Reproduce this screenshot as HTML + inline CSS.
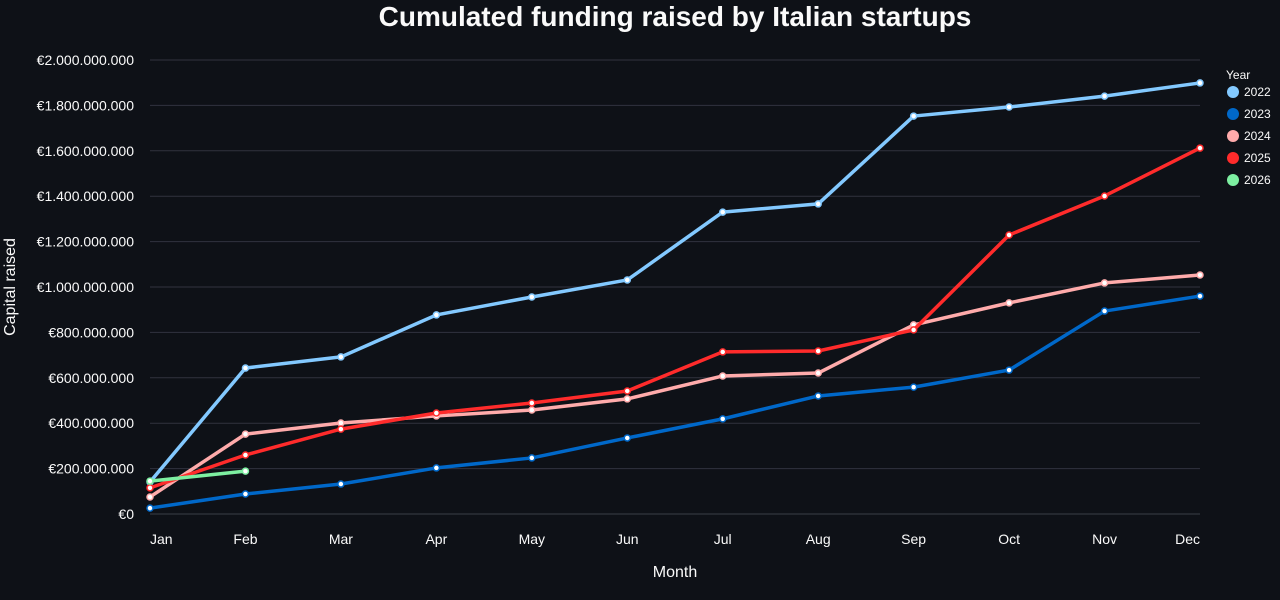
<!DOCTYPE html>
<html><head><meta charset="utf-8"><style>
html,body{margin:0;padding:0;background:#0e1117;}
svg{display:block;font-family:"Liberation Sans","DejaVu Sans",sans-serif;}
</style></head><body>
<svg id="chart" width="1280" height="600" viewBox="0 0 1280 600">
<rect width="1280" height="600" fill="#0e1117"/>
<text x="675" y="26" text-anchor="middle" fill="#fafafa" font-size="28" font-weight="bold">Cumulated funding raised by Italian startups</text>
<g id="grid"></g><g id="yticks"></g><g id="xticks"></g><g id="series"></g>
<text x="675" y="577" text-anchor="middle" fill="#fafafa" font-size="16">Month</text>
<text transform="translate(15,287) rotate(-90)" text-anchor="middle" fill="#fafafa" font-size="16">Capital raised</text>
<g id="legend"></g>
</svg>
<script>
const months=["Jan","Feb","Mar","Apr","May","Jun","Jul","Aug","Sep","Oct","Nov","Dec"];
const years=["2022","2023","2024","2025","2026"];
const colors=["#83c9ff","#0068c9","#ffabab","#ff2b2b","#7defa1"];
const s2022=[141,643,692,877,956,1031,1330,1366,1753,1793,1841,1899];
const s2023=[26,88,132,203,247,335,419,520,559,634,894,960];
const s2024=[75,352,401,432,458,507,608,621,833,930,1018,1053];
const s2025=[115,260,374,445,489,542,714,718,811,1229,1401,1612];
const s2026=[145,189];
const yTicks=[0,200,400,600,800,1000,1200,1400,1600,1800,2000];
const yTickLabels=["€0","€200.000.000","€400.000.000","€600.000.000","€800.000.000","€1.000.000.000","€1.200.000.000","€1.400.000.000","€1.600.000.000","€1.800.000.000","€2.000.000.000"];
const NS="http://www.w3.org/2000/svg";
const x0=150,x1=1200,yb=514,yt=60;
const xs=i=>x0+i*(x1-x0)/(months.length-1);
const ys=v=>yb-v/2000*(yb-yt);
function mk(t,a,p){const e=document.createElementNS(NS,t);for(const k in a)e.setAttribute(k,a[k]);p.appendChild(e);return e;}
const grid=document.getElementById('grid'),yt_=document.getElementById('yticks'),xt=document.getElementById('xticks'),ser=document.getElementById('series'),leg=document.getElementById('legend');
yTicks.forEach((v,i)=>{
 const l=mk('line',{x1:x0,x2:x1,y1:ys(v),y2:ys(v),stroke:i==0?'#3a3e47':'#31333f','stroke-width':1},grid);
 
 
 const t=mk('text',{x:134,y:ys(v)+5,'text-anchor':'end',fill:'#fafafa','font-size':14},yt_);
 t.textContent=yTickLabels[i];
 
 
});
months.forEach((m,i)=>{
 const anchor=i==0?'start':(i==months.length-1?'end':'middle');
 const t=mk('text',{x:xs(i),y:544,'text-anchor':anchor,fill:'#fafafa','font-size':14},xt);
 t.textContent=m;
 
 
});
[s2022,s2023,s2024,s2025,s2026].forEach((d,si)=>{
 const g=mk('g',{},ser);
 
 
 const p=mk('polyline',{points:d.map((v,i)=>xs(i)+','+ys(v)).join(' '),fill:'none',stroke:colors[si],'stroke-width':3.5,'stroke-linejoin':'round'},g);
 
 
 d.forEach((v,i)=>{
  const c=mk('circle',{cx:xs(i),cy:ys(v),r:3,fill:'#fff',stroke:colors[si],'stroke-width':1.5},g);
  
  
 });
});
const lt=mk('text',{x:1226,y:79,fill:'#fafafa','font-size':12},leg);
lt.textContent='Year';


years.forEach((y,i)=>{
 const g=mk('g',{},leg);
 
 
 mk('circle',{cx:1233,cy:92+i*22,r:6,fill:colors[i]},g);
 const t=mk('text',{x:1244,y:96+i*22,fill:'#fafafa','font-size':12},g);
 t.textContent=y;
});
</script>
</body></html>
